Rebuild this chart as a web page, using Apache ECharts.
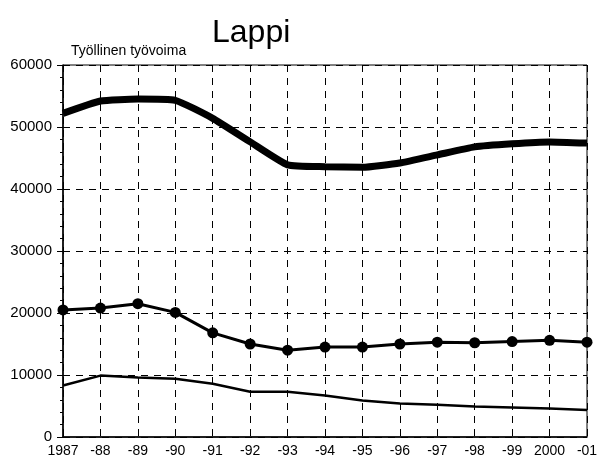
<!DOCTYPE html>
<html>
<head>
<meta charset="utf-8">
<script src="https://cdn.jsdelivr.net/npm/echarts@6/dist/echarts.min.js"></script>
<style>
html, body { margin: 0; padding: 0; background: #fff; }
#main { width: 611px; height: 462px; }
</style>
</head>
<body>
<div id="main"></div>
<script>
/* Lappi - työllinen työvoima */
var years = ['1987', '-88', '-89', '-90', '-91', '-92', '-93', '-94', '-95', '-96', '-97', '-98', '-99', '2000', '-01'];
var yhteensa = [52200, 54200, 54500, 54300, 51400, 47600, 43900, 43600, 43500, 44200, 45500, 46800, 47300, 47600, 47400];
var palvelut = [20500, 20800, 21500, 20100, 16800, 15000, 14000, 14500, 14500, 15000, 15300, 15200, 15400, 15600, 15300];
var alkutuotanto = [8300, 9900, 9600, 9400, 8600, 7300, 7300, 6700, 5900, 5400, 5200, 4900, 4750, 4600, 4350];
var yTicks = [0, 10000, 20000, 30000, 40000, 50000, 60000];

var chart = echarts.init(document.getElementById('main'));
var font = 'Liberation Sans, Arial, sans-serif';
var option = {
    animation: false,
    backgroundColor: '#fff',
    title: [{
        text: 'Lappi',
        left: 207,
        top: 12,
        textStyle: { fontFamily: font, fontSize: 32, fontWeight: 'normal', color: '#000' }
    }, {
        text: 'Työllinen työvoima',
        left: 66,
        top: 39,
        textStyle: { fontFamily: font, fontSize: 14, fontWeight: 'normal', color: '#000' }
    }],
    grid: {
        left: 63, right: 24, top: 65, bottom: 25,
        show: true,
        borderColor: '#000',
        borderWidth: 1
    },
    xAxis: {
        type: 'category',
        data: years,
        boundaryGap: false,
        axisLine: { lineStyle: { color: '#000', width: 1.5 } },
        axisTick: { show: false },
        axisLabel: { color: '#000', fontFamily: font, fontSize: 14, margin: 7, interval: 0 },
        splitLine: { show: true, lineStyle: { color: '#000', type: [7, 6], width: 1 } }
    },
    yAxis: {
        type: 'value',
        min: yTicks[0],
        max: yTicks[yTicks.length - 1],
        interval: 10000,
        axisLine: { show: true, lineStyle: { color: '#000', width: 1.5 } },
        axisTick: { show: true, length: 6, lineStyle: { color: '#000' } },
        minorTick: { show: true, splitNumber: 5, length: 3, lineStyle: { color: '#000' } },
        axisLabel: {
            color: '#000', fontFamily: font, fontSize: 15, margin: 11,
            formatter: function (v) { return String(v); }
        },
        splitLine: { show: true, lineStyle: { color: '#000', type: [7, 6], width: 1 } }
    },
    series: [{
        name: 'yhteensä',
        type: 'line',
        data: yhteensa,
        symbol: 'none',
        smooth: 0.15,
        lineStyle: { color: '#000', width: 7 }
    }, {
        name: 'palvelut',
        type: 'line',
        data: palvelut,
        symbol: 'circle',
        symbolSize: 11,
        itemStyle: { color: '#000' },
        lineStyle: { color: '#000', width: 3 }
    }, {
        name: 'alkutuotanto',
        type: 'line',
        data: alkutuotanto,
        symbol: 'none',
        lineStyle: { color: '#000', width: 2.5 }
    }]
};
chart.setOption(option);
</script>
</body>
</html>
